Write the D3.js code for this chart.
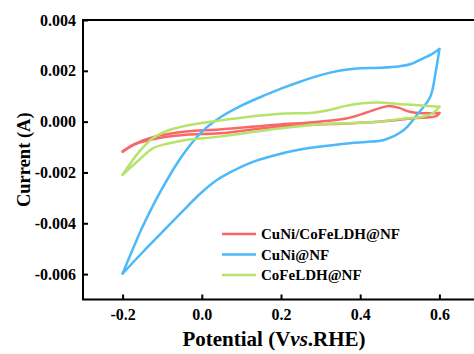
<!DOCTYPE html>
<html lang="en">
  <head>
    <meta charset="UTF-8" />
    <title>CV curves</title>
    <script src="https://d3js.org/d3.v7.min.js"></script>
    <style>
      body {
        margin: 0;
        background: #fff;
      }
      svg text {
        font-family: 'Liberation Serif', 'Times New Roman', serif;
        font-weight: bold;
        fill: #000;
      }
      .axis .domain {
        display: none;
      }
      .axis line {
        stroke: #000;
        stroke-width: 2;
      }
      .axis text {
        font-size: 16px;
      }
      .curve {
        fill: none;
        stroke-width: 2.5;
        stroke-linejoin: round;
        stroke-linecap: round;
      }
    </style>
  </head>
  <body>
    <div id="chart"></div>
    <script>
      // [potential (V vs RHE), current (A)], one array per scan branch
      const cuniCofeFwd = [
        [-0.2, -0.00118], [-0.17, -0.00088], [-0.124, -0.00061], [-0.04, -0.00039],
        [0.044, -0.00031], [0.19, -0.00012], [0.28, -0.00002], [0.364, 0.00012],
        [0.414, 0.00035], [0.449, 0.00053], [0.474, 0.00062], [0.5, 0.00053],
        [0.525, 0.00039], [0.558, 0.00033], [0.6, 0.00034],
      ];
      const cuniCofeRev = [
        [0.6, 0.00034], [0.592, 0.00022], [0.533, 0.00013], [0.449, 0.0],
        [0.364, -0.00007], [0.28, -0.00012], [0.19, -0.0002], [0.044, -0.00046],
        [-0.04, -0.00052], [-0.124, -0.00069], [-0.17, -0.0009], [-0.2, -0.00118],
      ];
      const cuniFwd = [
        [-0.2, -0.00598], [-0.17, -0.00486], [-0.15, -0.00415], [-0.1, -0.00263],
        [-0.05, -0.00135], [0.0, -0.0004], [0.05, 0.0002], [0.1, 0.00063],
        [0.15, 0.00098], [0.2, 0.0013], [0.25, 0.00158], [0.3, 0.00183],
        [0.35, 0.00201], [0.4, 0.0021], [0.45, 0.00212], [0.5, 0.00218],
        [0.53, 0.00228], [0.56, 0.0025], [0.58, 0.00265], [0.6, 0.00286],
      ];
      const cuniRev = [
        [0.6, 0.00286], [0.59, 0.0019], [0.577, 0.00098], [0.543, 0.00026],
        [0.51, -0.00033], [0.46, -0.00072], [0.415, -0.0008], [0.374, -0.00085],
        [0.248, -0.0011], [0.18, -0.00134], [0.121, -0.00163], [0.071, -0.002],
        [0.04, -0.00228], [0.0, -0.00278], [-0.05, -0.00355], [-0.1, -0.00435],
        [-0.15, -0.00515], [-0.2, -0.00598],
      ];
      const cofeFwd = [
        [-0.2, -0.00209], [-0.158, -0.00118], [-0.124, -0.00065], [-0.082, -0.00033],
        [-0.04, -0.00016], [0.044, 0.00004], [0.19, 0.0003], [0.28, 0.00035],
        [0.322, 0.00046], [0.364, 0.00062], [0.406, 0.00072], [0.449, 0.00075],
        [0.49, 0.0007], [0.533, 0.00066], [0.6, 0.00059],
      ];
      const cofeRev = [
        [0.6, 0.00059], [0.585, 0.00035], [0.56, 0.0002], [0.5, 0.0001],
        [0.449, 0.0], [0.364, -0.00006], [0.28, -0.00013], [0.19, -0.00028],
        [0.044, -0.00059], [-0.04, -0.00072], [-0.082, -0.00085], [-0.124, -0.00105],
        [-0.158, -0.0015], [-0.2, -0.00209],
      ];

      const seriesNames = ['CuNi/CoFeLDH@NF', 'CuNi@NF', 'CoFeLDH@NF'];
      const seriesColors = ['#f96868', '#4cb9fa', '#b6e36c'];
      const seriesData = [
        [cuniCofeFwd, cuniCofeRev],
        [cuniFwd, cuniRev],
        [cofeFwd, cofeRev],
      ];

      const xTicks = [-0.2, 0.0, 0.2, 0.4, 0.6];
      const yTicks = [-0.006, -0.004, -0.002, 0.0, 0.002, 0.004];

      const width = 474,
        height = 354;
      const plotLeft = 83,
        plotTop = 20,
        plotBottom = 299.5;

      const x = d3.scaleLinear().domain([-0.3, 0.7]).range([plotLeft, 479]);
      const y = d3.scaleLinear().domain([-0.007, 0.004]).range([plotBottom, plotTop]);

      const svg = d3
        .select('#chart')
        .append('svg')
        .attr('width', width)
        .attr('height', height);

      // curves first, frame on top
      const line = d3
        .line()
        .x((d) => x(d[0]))
        .y((d) => y(d[1]))
        .curve(d3.curveCatmullRom.alpha(0.5));

      seriesData.forEach((branches, i) => {
        branches.forEach((b) => {
          svg
            .append('path')
            .attr('class', 'curve')
            .attr('stroke', seriesColors[i])
            .attr('d', line(b));
        });
      });

      // axes (ticks pointing inward)
      svg
        .append('g')
        .attr('class', 'axis')
        .attr('transform', `translate(${plotLeft},0)`)
        .call(
          d3
            .axisLeft(y)
            .tickValues(yTicks)
            .tickSizeInner(-5)
            .tickSizeOuter(0)
            .tickPadding(7)
            .tickFormat((d) => d.toFixed(3))
        );

      svg
        .append('g')
        .attr('class', 'axis')
        .attr('transform', `translate(0,${plotBottom})`)
        .call(
          d3
            .axisBottom(x)
            .tickValues(xTicks)
            .tickSizeInner(-5)
            .tickSizeOuter(0)
            .tickPadding(9)
            .tickFormat((d) => d.toFixed(1))
        );

      // frame
      svg
        .append('rect')
        .attr('x', plotLeft)
        .attr('y', plotTop)
        .attr('width', x(0.7) - plotLeft)
        .attr('height', plotBottom - plotTop)
        .attr('fill', 'none')
        .attr('stroke', '#000')
        .attr('stroke-width', 2);

      // axis titles
      const xTitle = svg
        .append('text')
        .attr('x', 274)
        .attr('y', 346)
        .attr('text-anchor', 'middle')
        .style('font-size', '21px');
      xTitle.append('tspan').text('Potential (V');
      xTitle.append('tspan').style('font-style', 'italic').text('vs');
      xTitle.append('tspan').text('.RHE)');

      svg
        .append('text')
        .attr('transform', `translate(30,${(plotTop + plotBottom) / 2}) rotate(-90)`)
        .attr('text-anchor', 'middle')
        .style('font-size', '18.5px')
        .text('Current (A)');

      // legend
      const legend = svg.append('g').attr('transform', 'translate(222,234)');
      seriesNames.forEach((name, i) => {
        const row = legend.append('g').attr('transform', `translate(0,${i * 20.5})`);
        row
          .append('line')
          .attr('x1', 0)
          .attr('x2', 34)
          .attr('stroke', seriesColors[i])
          .attr('stroke-width', 2.5);
        row
          .append('text')
          .attr('x', 39)
          .attr('dy', '0.35em')
          .style('font-size', '15px')
          .text(name);
      });
    </script>
  </body>
</html>
